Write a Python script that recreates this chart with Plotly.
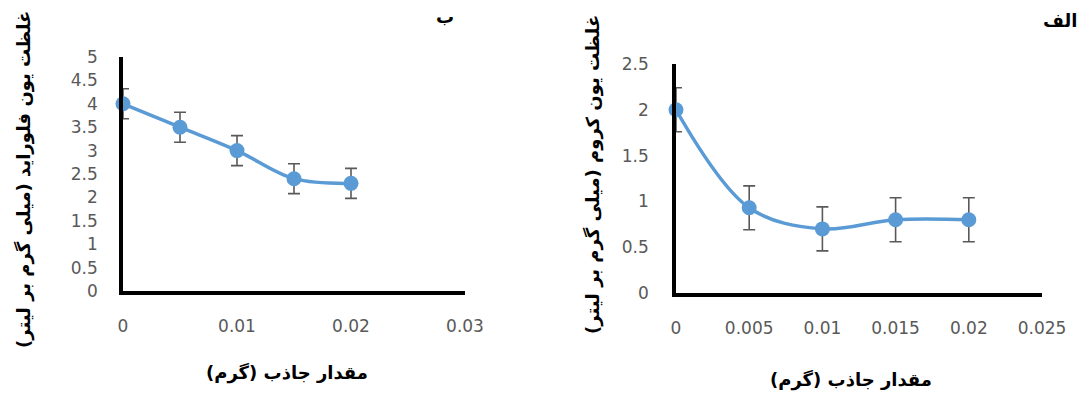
import plotly.graph_objects as go

# Panel "ب": fluoride concentration vs adsorbent dose
dose_b = [0, 0.005, 0.01, 0.015, 0.02]
fluoride = [4.0, 3.5, 3.0, 2.4, 2.3]
fluoride_err = [0.32, 0.32, 0.32, 0.32, 0.32]

# Panel "الف": chromium concentration vs adsorbent dose
dose_a = [0, 0.005, 0.01, 0.015, 0.02]
chromium = [2.0, 0.93, 0.70, 0.80, 0.80]
chromium_err = [0.24, 0.24, 0.24, 0.24, 0.24]

x_title = "مقدار جاذب (گرم)"
y_title_b = "غلظت یون فلوراید (میلی گرم بر لیتر)"
y_title_a = "غلظت یون کروم (میلی گرم بر لیتر)"
label_b = "ب"
label_a = "الف"

W, H = 1085, 394
BLUE = "#5B9BD5"
GRAY = "#595959"
FA_FONT = "DejaVu Sans"
NUM_FONT = "DejaVu Sans"


def px_x(p):
    return p / W


def px_y(p):
    return 1 - p / H


fig = go.Figure()

series_style = dict(
    mode="lines+markers",
    line=dict(color=BLUE, width=3.5, shape="spline", smoothing=1),
    marker=dict(color=BLUE, size=15),
    showlegend=False,
    cliponaxis=False,
)

fig.add_trace(go.Scatter(
    x=dose_b, y=fluoride,
    error_y=dict(type="data", array=fluoride_err, color=GRAY, thickness=1.6, width=6),
    xaxis="x", yaxis="y", **series_style))

fig.add_trace(go.Scatter(
    x=dose_a, y=chromium,
    error_y=dict(type="data", array=chromium_err, color=GRAY, thickness=1.6, width=6),
    xaxis="x2", yaxis="y2", **series_style))

axis_common = dict(
    showgrid=False, zeroline=False, showline=True, linecolor="black", linewidth=3.5,
    ticks="", tickfont=dict(family=NUM_FONT, size=17, color=GRAY), automargin=False,
)

fig.update_layout(
    width=W, height=H, autosize=False,
    margin=dict(l=0, r=0, t=0, b=0, pad=0, autoexpand=False),
    paper_bgcolor="white", plot_bgcolor="white",
    xaxis=dict(domain=[px_x(123), px_x(465)], range=[0, 0.03], dtick=0.01, tick0=0,
               anchor="y", ticklabelstandoff=17, **axis_common),
    yaxis=dict(domain=[px_y(291), px_y(57)], range=[0, 5], dtick=0.5, tick0=0,
               anchor="x", ticklabelstandoff=18, **axis_common),
    xaxis2=dict(domain=[px_x(676), px_x(1042)], range=[0, 0.025], dtick=0.005, tick0=0,
                anchor="y2", ticklabelstandoff=17, **axis_common),
    yaxis2=dict(domain=[px_y(293), px_y(64)], range=[0, 2.5], dtick=0.5, tick0=0,
                anchor="x2", ticklabelstandoff=20, **axis_common),
)

title_font = dict(family=FA_FONT, size=18, color="black")
bold = lambda s: "<b>" + s + "</b>"

annotations = [
    dict(text=bold(x_title), x=px_x(287), y=px_y(373)),
    dict(text=bold(x_title), x=px_x(851), y=px_y(380)),
    dict(text=bold(y_title_b), x=px_x(24), y=px_y(180), textangle=-90),
    dict(text=bold(y_title_a), x=px_x(593), y=px_y(175), textangle=-90),
    dict(text=bold(label_b), x=px_x(445), y=px_y(17)),
    dict(text=bold(label_a), x=px_x(1060), y=px_y(20)),
]
for a in annotations:
    fig.add_annotation(xref="paper", yref="paper", showarrow=False,
                       xanchor="center", yanchor="middle", font=title_font, **a)

fig.write_html("out.html")
